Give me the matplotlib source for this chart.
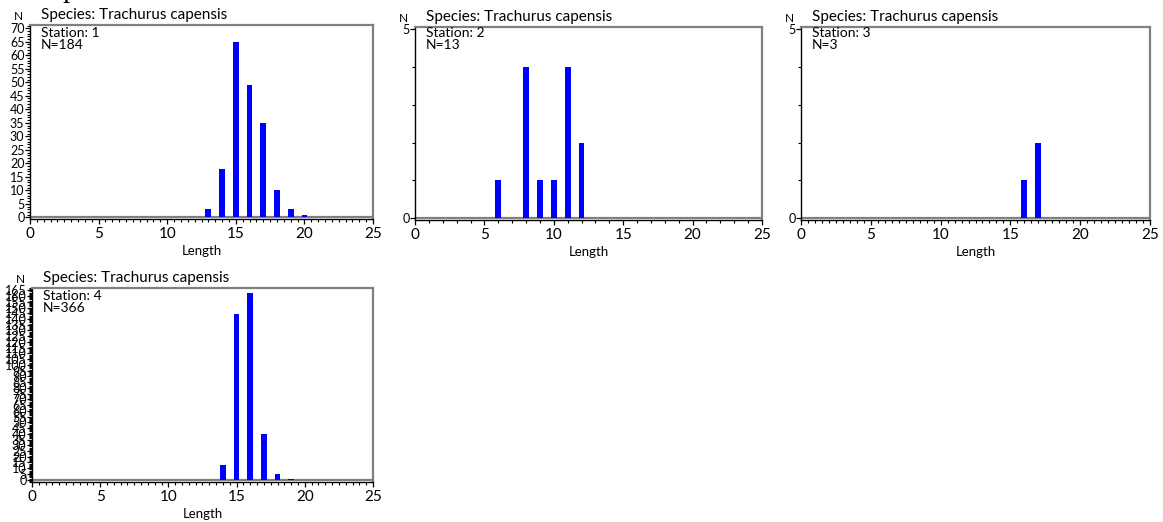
import matplotlib
matplotlib.use("Agg")
import matplotlib.pyplot as plt
from matplotlib.ticker import MultipleLocator

# Length-frequency data per station (length class -> count)
species = "Trachurus capensis"
stations = [1, 2, 3, 4]

st1_len = [13, 14, 15, 16, 17, 18, 19, 20]
st1_cnt = [3, 18, 65, 49, 35, 10, 3, 1]

st2_len = [6, 8, 9, 10, 11, 12]
st2_cnt = [1, 4, 1, 1, 4, 2]

st3_len = [16, 17]
st3_cnt = [1, 2]

st4_len = [14, 15, 16, 17, 18, 19]
st4_cnt = [13, 144, 163, 40, 5, 1]

W, H = 1163, 522
fig = plt.figure(figsize=(W / 100, H / 100), dpi=100)

FONT = ["Lato", "DejaVu Sans"]
BAR = "#0000FF"
GRAY = "#808080"

# page heading partly cut off at the top edge
fig.text(47 / W, 1 + 3 / H, "Species", family="Liberation Serif",
         fontsize=21, va="baseline", ha="left")

panels = [
    # (lengths, counts, station, rect px (l, t, r, b), ylim, y major, x minor)
    (st1_len, st1_cnt, 1, (30, 25, 373, 219), (-0.6, 71.2), 5, 0.5),
    (st2_len, st2_cnt, 2, (415, 26.7, 762, 220), (-0.05, 5.07), 5, 1),
    (st3_len, st3_cnt, 3, (801, 26.7, 1150, 220), (-0.05, 5.07), 5, 0.5),
    (st4_len, st4_cnt, 4, (32, 288, 373, 482), (-2.0, 167.0), 5, 0.5),
]

for lens, cnts, st, (l, t, r, b), ylim, ymaj, xmin in panels:
    ax = fig.add_axes([l / W, 1 - b / H, (r - l) / W, (b - t) / H])
    ax.bar(lens, cnts, width=0.42, color=BAR, zorder=3)
    ax.axhline(0, color=GRAY, lw=1.6, zorder=2)
    ax.set_xlim(0, 25)
    ax.set_ylim(*ylim)

    ax.xaxis.set_major_locator(MultipleLocator(5))
    ax.xaxis.set_minor_locator(MultipleLocator(xmin))
    ax.yaxis.set_major_locator(MultipleLocator(ymaj))
    ax.yaxis.set_minor_locator(MultipleLocator(1))

    for side in ("top", "right"):
        ax.spines[side].set_color(GRAY)
        ax.spines[side].set_linewidth(1.6)
    for side in ("left", "bottom"):
        ax.spines[side].set_color("black")
        ax.spines[side].set_linewidth(1.0)

    ax.tick_params(axis="both", which="major", direction="out", length=3.5,
                   width=0.9, colors="black")
    ax.tick_params(axis="both", which="minor", direction="out", length=2,
                   width=0.8, colors="black")
    ax.tick_params(axis="x", labelsize=11, pad=2)
    ax.tick_params(axis="y", labelsize=9, pad=0.5)
    for lab in ax.get_xticklabels() + ax.get_yticklabels():
        lab.set_family(FONT)

    ax.set_xlabel("Length", family=FONT, fontsize=9.5, labelpad=3)

    # station annotation in the upper-left corner
    x0 = l + 11
    fig.text(x0 / W, 1 - 37 / H if st < 4 else 1 - (37 + 263) / H,
             f"Station: {st}", family=FONT, fontsize=10,
             ha="left", va="baseline")
    fig.text(x0 / W, 1 - 49 / H if st < 4 else 1 - (49 + 263) / H,
             f"N={sum(cnts)}", family=FONT, fontsize=10,
             ha="left", va="baseline")

    # panel header above the frame
    fig.text((l - 12) / W, 1 - (t - 5) / H, "N", family=FONT, fontsize=8.5,
             ha="center", va="baseline")
    fig.text((l + 11) / W, 1 - (t - 6) / H, f"Species: {species}",
             family=FONT, fontsize=11, ha="left", va="baseline")

fig.savefig("out.png", dpi=100)
